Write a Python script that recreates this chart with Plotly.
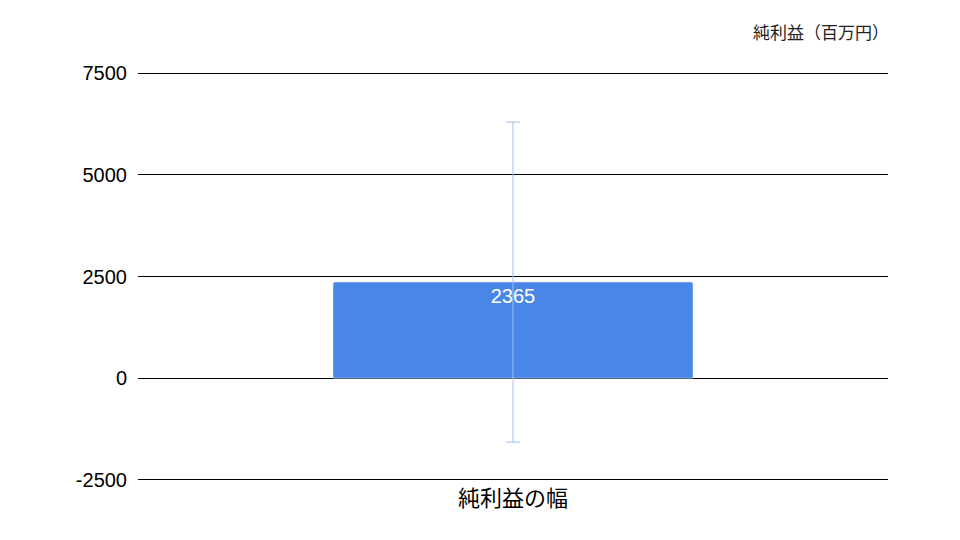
import plotly.graph_objects as go

# Data
categories = ['純利益の幅']
values = [2365]
err_plus = [3935]
err_minus = [3940]
y_ticks = [-2500, 0, 2500, 5000, 7500]
y_tick_labels = ['-2500', '0', '2500', '5000', '7500']

fig = go.Figure(go.Bar(
    x=categories,
    y=values,
    marker=dict(color='#4A86E8', cornerradius=2),
    width=0.48,
    text=[str(v) for v in values],
    textposition='inside',
    insidetextanchor='end',
    textfont=dict(color='white', size=20, family='Liberation Sans, Arial'),
    error_y=dict(type='data', symmetric=False, array=err_plus, arrayminus=err_minus,
                 color='#9FC0EE', thickness=1, width=7),
))

# page body has an 8px margin, so size/margins are offset to land on the 960x540 frame
fig.update_layout(
    width=952, height=532,
    margin=dict(l=130, r=72, t=64, b=59),
    plot_bgcolor='white', paper_bgcolor='white',
    showlegend=False,
    font=dict(family='Liberation Sans, Arial, Noto Sans CJK JP', color='#000000'),
    annotations=[dict(text='純利益（百万円）', xref='paper', yref='paper', x=1.0, y=1.0,
                      xanchor='right', yanchor='bottom', yshift=26, xshift=3, showarrow=False,
                      font=dict(size=17, family='Noto Sans CJK JP', color='#222222'))],
)
# small padding on the range so the edge gridlines at -2500 / 7500 are drawn
fig.update_yaxes(range=[-2530, 7530], tickvals=y_ticks, ticktext=y_tick_labels,
                 showgrid=True, gridcolor='#000000', gridwidth=1,
                 zeroline=True, zerolinecolor='#000000', zerolinewidth=1,
                 tickfont=dict(size=20), ticks='', ticklabelstandoff=10, automargin=False)
fig.update_xaxes(showgrid=False, tickfont=dict(size=22, family='Noto Sans CJK JP'),
                 showline=False, automargin=False, ticklabelstandoff=2)

fig.write_html('out.html')
